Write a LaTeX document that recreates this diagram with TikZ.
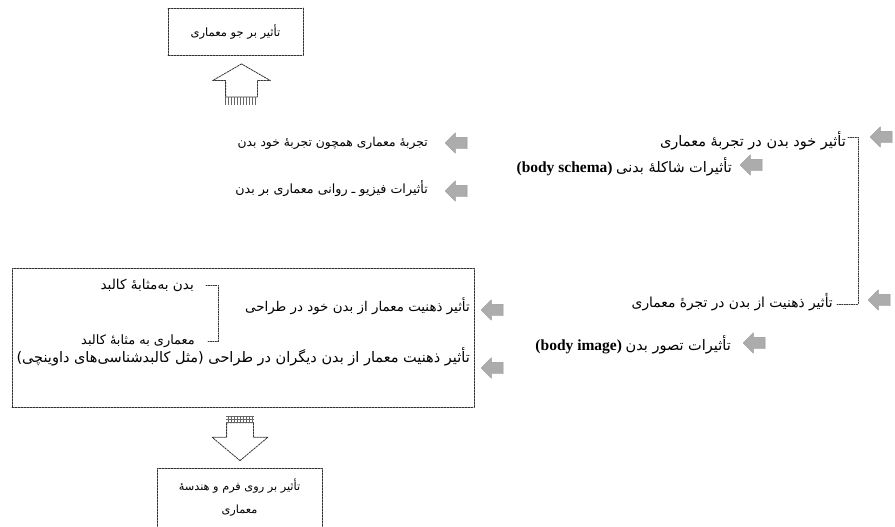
\documentclass[tikz,border=0pt]{standalone}
\usepackage{fontspec}
\setmainfont{Liberation Serif}
\newfontfamily\farsi[Script=Arabic]{DejaVu Sans}
\TeXXeTstate=1
\usetikzlibrary{shapes.arrows,positioning,patterns}
\newcommand\fa[1]{{\farsi\beginR #1\endR}}
\newcommand\lat[1]{{\fontsize{15.5}{17}\selectfont\bfseries #1}}
\tikzset{>=stealth,
every picture/.append style={
    line join=round,
    line cap=round
  }}
\tikzset{
  txt/.style={inner sep=0pt, anchor=east, font=\fontsize{14.5}{17}\selectfont},
  sz/.style={font=\fontsize{#1}{17}\selectfont},
  garrow/.style={single arrow, fill=gray!65, draw=gray!80, shape border rotate=180,
    minimum height=22pt, inner xsep=0pt, inner ysep=5.5pt, single arrow head extend=4.5pt},
  dashbox/.style={draw=black!80, line width=.8pt, dash pattern=on 2pt off 1pt},
  link/.style={draw=black!80, line width=.8pt, dash pattern=on 1.2pt off 1.2pt},
  hollow/.style={single arrow, dashbox, inner ysep=0pt}
}

\begin{document}
\begin{tikzpicture}[x=1pt,y=-1pt]
        \useasboundingbox (0,0) rectangle (895,527);

        \node [dashbox, minimum width=135pt, minimum height=47pt, sz=11.5] (atmos) at (235.5,31.5) {\fa{تأثیر بر جو معماری}};
        \node [hollow, shape border rotate=90, minimum height=33pt, minimum width=57pt, inner xsep=15.5pt,
               single arrow head extend=13pt, single arrow tip angle=120] (up) at (241.5,85) {};
        \fill [pattern=vertical lines, pattern color=black!60] (up.before tail) rectangle ([yshift=-7pt]up.after tail);

        \node [txt, sz=12.3] (exp) at (428,143) {\fa{تجربهٔ معماری همچون تجربهٔ خود بدن}};
        \node [txt, sz=12.7] (psy) at (428,189) {\fa{تأثیرات فیزیو ـ روانی معماری بر بدن}};
        \node [garrow] (aexp) at (459,143) {};
        \node [garrow] (apsy) at (459,191) {};

        \node [txt] (self) at (846,141) {\fa{تأثیر خود بدن در تجربهٔ معماری}};
        \node [garrow] (aself) at (884,137) {};
        \node [txt] (schema) at (732,167) {\lat{(body schema)}~\fa{تأثیرات شاکلهٔ بدنی}};
        \node [garrow] (aschema) at (754,165) {};

        \node [txt, sz=13.8] (mind) at (833,302) {\fa{تأثیر ذهنیت از بدن در تجرهٔ معماری}};
        \node [garrow] (amind) at (882,300) {};
        \node [txt] (image) at (731,345) {\lat{(body image)}~\fa{تأثیرات تصور بدن}};
        \node [garrow] (aimage) at (757,343) {};

        \draw [link] (self.east) ++(2,-4) -- ++(10,0) coordinate (k) |- ([xshift=3pt,yshift=-2pt]mind.east);

        \node [dashbox, minimum width=462pt, minimum height=139pt] (grp) at (243,337.5) {};
        \node [txt, sz=13.4] (own) at (470,306) {\fa{تأثیر ذهنیت معمار از بدن خود در طراحی}};
        \node [txt] (other) at (470,357) {\fa{تأثیر ذهنیت معمار از بدن دیگران در طراحی (مثل کالبدشناسی‌های داوینچی)}};
        \node [garrow] (aown) at (495,310) {};
        \node [garrow] (aother) at (495,368) {};
        \node [txt, sz=13.6] (bodyk) at (194,285) {\fa{بدن به‌مثابهٔ کالبد}};
        \node [txt, sz=12.9] (archk) at (195,341) {\fa{معماری به مثابهٔ کالبد}};
        \draw [link] ([xshift=12pt]bodyk.east) -- ++(12,0) |- ([xshift=12pt]archk.east);

        \node [hollow, shape border rotate=270, minimum height=38pt, minimum width=55pt, inner xsep=13pt,
               single arrow head extend=14.5pt, single arrow tip angle=100] (down) at (240,436) {};
        \fill [pattern=grid, pattern color=black!60] (down.before tail) rectangle ([yshift=6pt]down.after tail);

        \node [dashbox, minimum width=165pt, minimum height=64pt, align=center, sz=11.3,
               text depth=8pt] (form) at (239.5,500) {\fa{تأثیر بر روی فرم و هندسهٔ}\\[6pt]\fa{معماری}};
    \end{tikzpicture}
\end{document}
